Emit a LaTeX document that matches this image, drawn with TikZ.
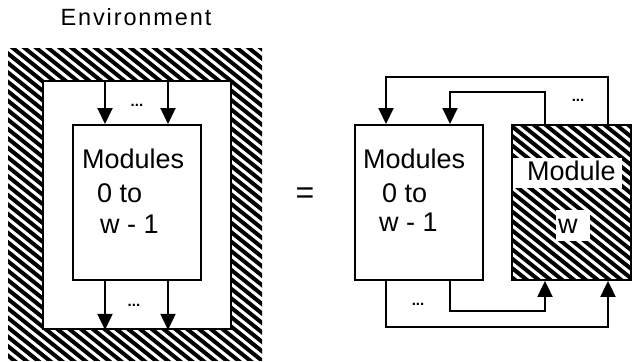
\documentclass[tikz,border=0pt]{standalone}
\usepackage{fontspec}
\setmainfont{Liberation Sans}
\usetikzlibrary{arrows.meta}
\newcommand\myhatch[4]{%
  \begin{scope}
    \clip (#1,#2) rectangle (#3,#4);
    \foreach \k in {-45,...,62} \draw[line width=4pt] (\k*11.8,0) -- ++(500,400);
  \end{scope}}
\begin{document}
\begin{tikzpicture}[x=1pt,y=-1pt,
  box/.style={draw, line width=1.9pt, inner sep=0pt, anchor=north west},
  lbl/.style={font=\fontsize{27}{30}\selectfont, inner sep=0pt, anchor=base west},
  dots/.style={font=\fontsize{15}{15}\selectfont\bfseries, inner sep=0pt},
  arr/.style={line width=1.9pt, -{Triangle[length=16pt,width=15pt]}},
  wire/.style={line width=1.9pt}]
\useasboundingbox (0,0) rectangle (633,362);
% title
\node[font=\fontsize{23.5}{26}\selectfont\addfontfeature{LetterSpace=8}, inner sep=0pt, anchor=base] (title) at (136,25) {Environment};
% left: environment
\myhatch{8}{48}{262}{360}
\node[inner sep=0pt, anchor=north west, minimum width=254, minimum height=312] (env) at (8,48) {};
\node[box, fill=white, minimum width=188, minimum height=248] (envin) at (42,80) {};
\node[box, fill=white, minimum width=128, minimum height=155] (mL) at (72,124) {};
\node[lbl] (mLa) at (82,168) {Modules};
\node[lbl] (mLb) at (97,202) {0 to};
\node[lbl] (mLc) at (100,233) {w - 1};
\coordinate (xa) at (105,0);
\coordinate (xb) at (168,0);
\draw[arr] (envin.north -| xa) -- (mL.north -| xa);
\draw[arr] (envin.north -| xb) -- (mL.north -| xb);
\draw[arr] (mL.south -| xa) -- (envin.south -| xa);
\draw[arr] (mL.south -| xb) -- (envin.south -| xb);
\node[dots] (d1) at (137,105) {...};
\node[dots] (d2) at (134,305) {...};
% equals
\node[font=\fontsize{32}{32}\selectfont, inner sep=0pt] (eq) at (305,196) {=};
% right: modules 0..w-1
\node[box, fill=white, minimum width=128, minimum height=155] (mR) at (354,124) {};
\node[lbl] (mRa) at (363,168) {Modules};
\node[lbl] (mRb) at (382,202) {0 to};
\node[lbl] (mRc) at (379,231) {w - 1};
% module w
\myhatch{511}{124}{630}{279}
\node[box, minimum width=119, minimum height=155] (mW) at (511,124) {};
\fill[white] (513,158) rectangle (622,188);
\fill[white] (556,210) rectangle (590,241);
\node[lbl] (mWa) at (527,180) {Module};
\node[lbl] (mWb) at (558,233) {w};
% connectors
\coordinate (p1) at (386,0);
\coordinate (p2) at (450,0);
\coordinate (q1) at (545,0);
\coordinate (q2) at (608,0);
\coordinate (t1) at (0,77);
\coordinate (t2) at (0,92);
\coordinate (b1) at (0,311);
\coordinate (b2) at (0,327);
\draw[arr] (mW.north -| q2) -- (q2 |- t1) -- (p1 |- t1) -- (mR.north -| p1);
\draw[arr] (mW.north -| q1) -- (q1 |- t2) -- (p2 |- t2) -- (mR.north -| p2);
\draw[arr] (mR.south -| p2) -- (p2 |- b1) -- (q1 |- b1) -- (mW.south -| q1);
\draw[arr] (mR.south -| p1) -- (p1 |- b2) -- (q2 |- b2) -- (mW.south -| q2);
\node[dots] (d3) at (578,100) {...};
\node[dots] (d4) at (418,304) {...};
\end{tikzpicture}
\end{document}
